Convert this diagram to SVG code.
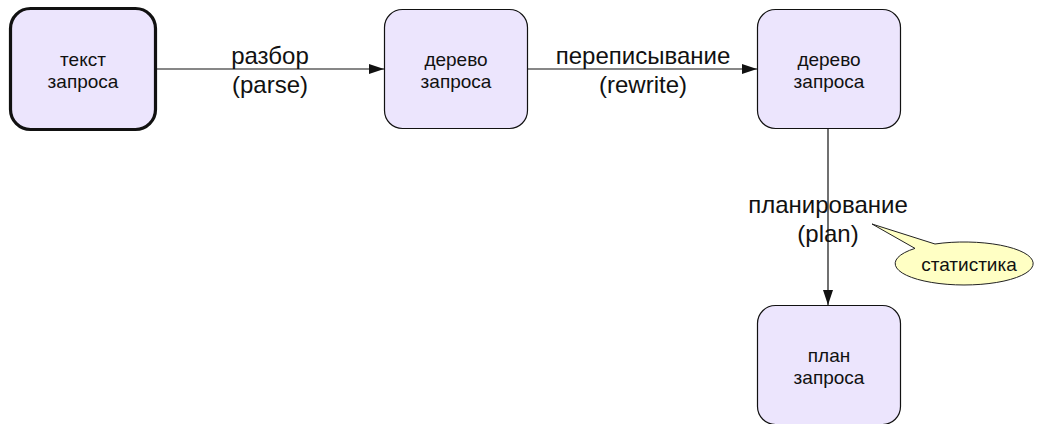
<svg xmlns="http://www.w3.org/2000/svg" width="1037" height="424" viewBox="0 0 1037 424">
<style>
.node rect{fill:#ece5fd;stroke:#111;stroke-width:1.2}
.node text{font-family:"Liberation Sans",Arial,sans-serif;font-size:19px;fill:#111;text-anchor:middle}
.lbl{font-family:"Liberation Sans",Arial,sans-serif;font-size:24px;fill:#111;text-anchor:middle}
.conn{stroke:#111;stroke-width:1.2;fill:none;marker-end:url(#arr)}
</style>
<defs>
<marker id="arr" markerUnits="userSpaceOnUse" markerWidth="16" markerHeight="11" refX="15" refY="5" orient="auto">
<path d="M0,0 L15,5 L0,10 Z" fill="#111"/>
</marker>
</defs>
<rect width="1037" height="424" fill="#fff"/>
<g id="connectors">
<line class="conn" x1="157" y1="69" x2="384" y2="69"/>
<line class="conn" x1="528" y1="69" x2="757" y2="69"/>
<line class="conn" x1="828" y1="129" x2="828" y2="305"/>
<text class="lbl" x="270" y="64">разбор</text>
<text class="lbl" x="270" y="93">(parse)</text>
<text class="lbl" x="643" y="64">переписывание</text>
<text class="lbl" x="643" y="93">(rewrite)</text>
<text class="lbl" x="828" y="213">планирование</text>
<text class="lbl" x="828" y="242">(plan)</text>
</g>
<g id="n1" class="node">
<rect x="10.5" y="8.5" width="145" height="121" rx="20" style="stroke-width:3.2"/>
<text x="83" y="66">текст</text>
<text x="83" y="88">запроса</text>
</g>
<g id="n2" class="node">
<rect x="384.5" y="9.5" width="143" height="119" rx="18"/>
<text x="456" y="66">дерево</text>
<text x="456" y="88">запроса</text>
</g>
<g id="n3" class="node">
<rect x="757.5" y="9.5" width="143" height="119" rx="18"/>
<text x="829" y="66">дерево</text>
<text x="829" y="88">запроса</text>
</g>
<g id="n4" class="node">
<rect x="757.5" y="305.5" width="143" height="119" rx="18"/>
<text x="829" y="362">план</text>
<text x="829" y="384">запроса</text>
</g>
<g id="callout">
<path d="M872,224 L935,244 A69,21.5 0 1 1 915,248.4 Z" fill="#ffffc4" stroke="#222" stroke-width="1"/>
<text x="969" y="271" style="font-family:'Liberation Sans',Arial,sans-serif;font-size:19px;fill:#111;text-anchor:middle">статистика</text>
</g>
</svg>
